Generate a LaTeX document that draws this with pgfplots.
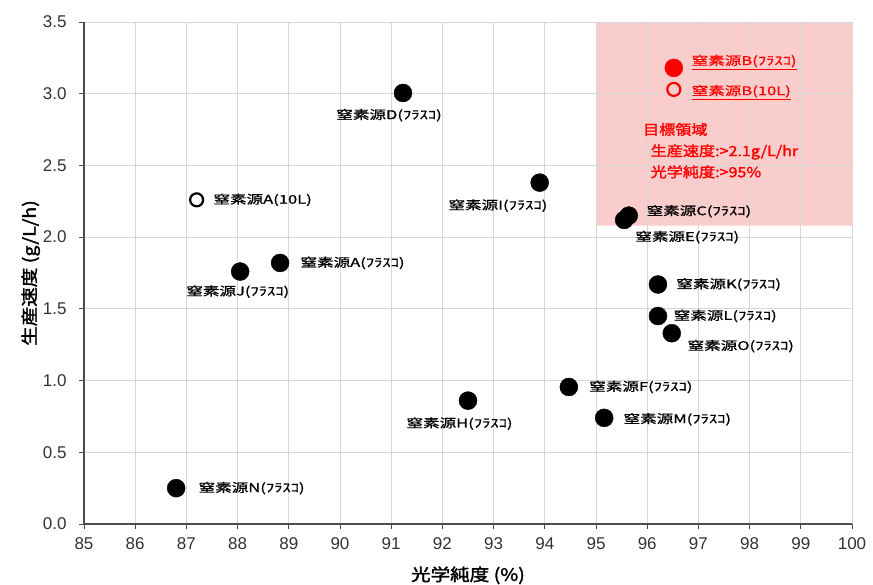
\documentclass[border=0pt]{standalone}
\usepackage{pgfplots}
\pgfplotsset{compat=1.18}
\usepackage{fontspec}
\setmainfont{Liberation Sans}
\newfontfamily\jp[FakeStretch=1.38,FakeBold=1]{Noto Sans CJK JP}
\newfontfamily\jpb[FakeBold=2,FakeStretch=1.15]{Noto Sans CJK JP}
\definecolor{shade}{RGB}{250,205,205}
\definecolor{gridc}{RGB}{215,215,215}
\tikzset{lab/.style={anchor=west, font=\jp\fontsize{12}{12}\selectfont},
  tgt/.style={anchor=west, text=red, font=\jpb\fontsize{14}{14}\selectfont}}
\begin{document}
\begin{tikzpicture}
\begin{axis}[
  set layers,
  scale only axis, width=768pt, height=502pt,
  at={(0,0)}, anchor=south west,
  xmin=85, xmax=100, ymin=0, ymax=3.5,
  xtick={85,86,...,100}, ytick={0,0.5,...,3.5},
  yticklabel style={xshift=-9pt, /pgf/number format/.cd,fixed,fixed zerofill,precision=1},
  /pgf/number format/assume math mode=true,
  ticklabel style={font=\fontsize{17}{17}\selectfont, text=black!80},
  xticklabel style={yshift=-5pt},
  grid=major, major grid style={gridc, line width=0.8pt},
  axis x line*=bottom, axis y line*=left,
  axis line style={black!70, line width=1.2pt, -},
  tick style={black!70, line width=0.8pt},
  tick align=outside, major tick length=5pt,
  xlabel={\jpb\fontsize{17}{17}\selectfont 光学純度 (\%)},
  ylabel={\jpb\fontsize{17}{17}\selectfont 生産速度 (g/L/h)},
  xlabel style={yshift=-10pt},
  ylabel style={yshift=-4pt},
  clip=false,
]
\addplot[fill=shade, draw=none, on layer=axis background] coordinates {(95,2.08) (100,2.08) (100,3.5) (95,3.5) (95,2.08)};
% black filled points
\addplot[only marks, mark=*, mark size=9pt, black, mark options={fill=black}] coordinates {
(91.23,3.005) (88.83,1.82) (88.05,1.76) (93.9,2.38) (95.55,2.12) (95.64,2.15)
(96.21,1.67) (96.21,1.45) (96.48,1.33) (94.47,0.955) (95.16,0.74) (92.5,0.86) (86.8,0.25)};
% open black
\addplot[only marks, mark=o, mark size=6.5pt, black, line width=2.2pt] coordinates {(87.2,2.26)};
% red points
\addplot[only marks, mark=*, mark size=9pt, red, mark options={fill=red}] coordinates {(96.52,3.18)};
\addplot[only marks, mark=o, mark size=6.5pt, red, line width=2.2pt] coordinates {(96.52,3.03)};
% labels
\node[lab] at (axis cs:89.86,2.85) {窒素源D(ﾌﾗｽｺ)};
\node[lab] at (axis cs:87.46,2.26) {窒素源A(10L)};
\node[lab] at (axis cs:89.16,1.82) {窒素源A(ﾌﾗｽｺ)};
\node[lab] at (axis cs:86.93,1.62) {窒素源J(ﾌﾗｽｺ)};
\node[lab] at (axis cs:92.05,2.22) {窒素源I(ﾌﾗｽｺ)};
\node[lab] at (axis cs:95.92,2.18) {窒素源C(ﾌﾗｽｺ)};
\node[lab] at (axis cs:95.70,2.00) {窒素源E(ﾌﾗｽｺ)};
\node[lab, text=red] at (axis cs:96.80,3.22) {\underline{窒素源B(ﾌﾗｽｺ)}};
\node[lab, text=red] at (axis cs:96.80,3.01) {\underline{窒素源B(10L)}};
\node[lab] at (axis cs:96.50,1.67) {窒素源K(ﾌﾗｽｺ)};
\node[lab] at (axis cs:96.45,1.45) {窒素源L(ﾌﾗｽｺ)};
\node[lab] at (axis cs:96.72,1.24) {窒素源O(ﾌﾗｽｺ)};
\node[lab] at (axis cs:94.80,0.955) {窒素源F(ﾌﾗｽｺ)};
\node[lab] at (axis cs:95.47,0.73) {窒素源M(ﾌﾗｽｺ)};
\node[lab] at (axis cs:91.23,0.70) {窒素源H(ﾌﾗｽｺ)};
\node[lab] at (axis cs:87.17,0.25) {窒素源N(ﾌﾗｽｺ)};
\node[tgt] at (axis cs:95.85,2.75) {目標領域};
\node[tgt] at (axis cs:96.0,2.594) {生産速度:>2.1g/L/hr};
\node[tgt] at (axis cs:96.0,2.455) {光学純度:>95\%};
\end{axis}
\pgfresetboundingbox
\path[use as bounding box] (-84pt,-61pt) rectangle (789pt,524pt);
\end{tikzpicture}
\end{document}
